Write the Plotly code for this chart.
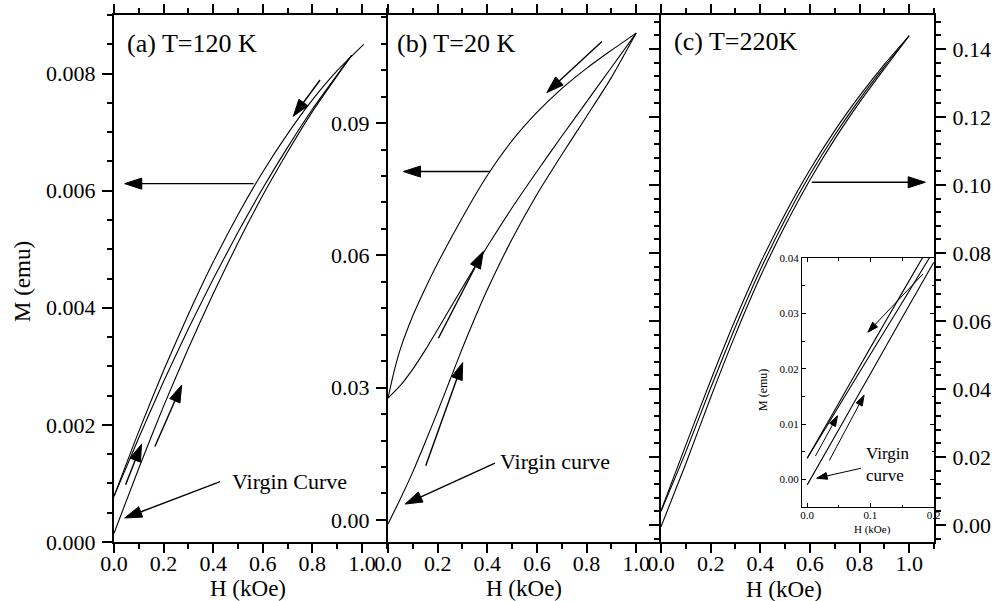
import plotly.graph_objects as go

FONT = "Liberation Serif, Times New Roman, serif"

# ---------------- data ----------------
# Panel (a) T=120 K
a_desc_H = [0, 0.1, 0.2, 0.3, 0.4, 0.5, 0.6, 0.7, 0.8, 0.9, 1.007]
a_desc_M = [0.00078, 0.00189, 0.00293, 0.00389, 0.00478, 0.00559, 0.00632, 0.00697, 0.00755, 0.00805, 0.0085]
a_asc_H = [0, 0.1, 0.2, 0.3, 0.4, 0.5, 0.6, 0.7, 0.8, 0.958]
a_asc_M = [0.00078, 0.00178, 0.00274, 0.00364, 0.00449, 0.00529, 0.00604, 0.00674, 0.00739, 0.00831]
a_vir_H = [0, 0.1, 0.2, 0.3, 0.4, 0.5, 0.6, 0.7, 0.8, 0.958]
a_vir_M = [0.00015, 0.00126, 0.00232, 0.00331, 0.00424, 0.00511, 0.00592, 0.00666, 0.00735, 0.00831]

# Panel (b) T=20 K
b_desc_H = [0, 0.025, 0.05, 0.1, 0.15, 0.2, 0.3, 0.4, 0.5, 0.6, 0.7, 0.8, 0.9, 1.0]
b_desc_M = [0.0276, 0.0338, 0.0388, 0.0463, 0.0525, 0.0582, 0.0686, 0.0781, 0.086, 0.0924, 0.0978, 0.1024, 0.1065, 0.1104]
b_asc_H = [0, 0.05, 0.1, 0.15, 0.2, 0.3, 0.4, 0.5, 0.6, 0.7, 0.8, 0.9, 1.0]
b_asc_M = [0.0276, 0.0305, 0.0342, 0.0385, 0.0432, 0.0527, 0.062, 0.0708, 0.079, 0.087, 0.0948, 0.1026, 0.1104]
b_vir_H = [0, 0.05, 0.1, 0.15, 0.2, 0.25, 0.3, 0.35, 0.4, 0.5, 0.6, 0.7, 0.8, 0.9, 1.0]
b_vir_M = [-0.0009, 0.0048, 0.0109, 0.0176, 0.0246, 0.0318, 0.039, 0.0458, 0.0522, 0.0637, 0.0738, 0.0828, 0.0915, 0.1003, 0.1104]

# Panel (c) T=220K
c_H = [0, 0.1, 0.2, 0.3, 0.4, 0.5, 0.6, 0.7, 0.8, 0.9, 1.0]
c_desc_M = [0.0042, 0.0235, 0.0425, 0.0605, 0.077, 0.0915, 0.1045, 0.116, 0.1262, 0.1355, 0.1439]
c_asc_M = [0.0040, 0.0215, 0.0403, 0.0583, 0.075, 0.0898, 0.103, 0.1147, 0.1252, 0.1348, 0.1439]
c_vir_M = [-0.0005, 0.018, 0.0375, 0.056, 0.073, 0.088, 0.1015, 0.1135, 0.1243, 0.1342, 0.1439]

# Inset of (c): low-field loop
ins_H = [0, 0.05, 0.1, 0.15, 0.2]
ins_desc_M = [0.0038, 0.0138, 0.0238, 0.0337, 0.0435]
ins_asc_M = [0.0038, 0.0132, 0.0226, 0.0319, 0.0413]
ins_vir_M = [-0.001, 0.009, 0.0191, 0.0292, 0.0392]

# Arrows: (tail, head) in data units of each panel
a_arrows = [((0.831, 0.00789), (0.723, 0.00727)),
            ((0.563, 0.00612), (0.043, 0.00612)),
            ((0.047, 0.00098), (0.111, 0.00167)),
            ((0.165, 0.00163), (0.273, 0.00268)),
            ((0.428, 0.00103), (0.043, 0.00041))]
b_arrows = [((0.862, 0.1085), (0.640, 0.0969)),
            ((0.411, 0.0790), (0.062, 0.0790)),
            ((0.203, 0.0412), (0.384, 0.0609)),
            ((0.152, 0.0123), (0.301, 0.0357)),
            ((0.431, 0.0129), (0.069, 0.0036))]
c_arrows = [((0.608, 0.1008), (1.065, 0.1008))]
ins_arrows = [((0.183, 0.0371), (0.096, 0.0266)),
              ((0.013, 0.0042), (0.048, 0.0115)),
              ((0.035, 0.0034), (0.090, 0.0152)),
              ((0.085, 0.0020), (0.015, 0.0002))]

W, H = 994, 601
fig = go.Figure()


def curve(x, y, xa, ya, w=1.1):
    fig.add_trace(go.Scatter(x=x, y=y, mode="lines",
                             line=dict(color="black", width=w, shape="spline", smoothing=0.6),
                             xaxis=xa, yaxis=ya, hoverinfo="skip", showlegend=False))


def arrow(tail, head, xa, ya, size=18, w=1.4):
    fig.add_trace(go.Scatter(x=[tail[0], head[0]], y=[tail[1], head[1]], mode="lines+markers",
                             line=dict(color="black", width=w),
                             marker=dict(symbol="arrow", size=[0, size], angleref="previous",
                                         color="black", opacity=1,
                                         line=dict(width=1, color="black")),
                             xaxis=xa, yaxis=ya, hoverinfo="skip", showlegend=False))


curve(a_desc_H, a_desc_M, "x", "y")
curve(a_asc_H, a_asc_M, "x", "y")
curve(a_vir_H, a_vir_M, "x", "y")
for t, h in a_arrows:
    arrow(t, h, "x", "y")

curve(b_desc_H, b_desc_M, "x2", "y2")
curve(b_asc_H, b_asc_M, "x2", "y2")
curve(b_vir_H, b_vir_M, "x2", "y2")
for t, h in b_arrows:
    arrow(t, h, "x2", "y2")

curve(c_H, c_desc_M, "x3", "y3")
curve(c_H, c_asc_M, "x3", "y3")
curve(c_H, c_vir_M, "x3", "y3")
for t, h in c_arrows:
    arrow(t, h, "x3", "y3")

curve(ins_H, ins_desc_M, "x4", "y4")
curve(ins_H, ins_asc_M, "x4", "y4")
curve(ins_H, ins_vir_M, "x4", "y4")
for t, h in ins_arrows:
    arrow(t, h, "x4", "y4", size=11, w=1)


def axis(domain, anchor, rng, dtick, minor, fmt, mirror, size=22, lw=2, tl=9, mtl=5,
         ticks="outside", side=None, standoff=0):
    d = dict(domain=domain, anchor=anchor, range=rng, dtick=dtick, tick0=0, tickformat=fmt,
             showline=True, linecolor="black", linewidth=lw, mirror=mirror, ticks=ticks,
             ticklen=tl, tickwidth=lw, tickcolor="black", automargin=False,
             ticklabelstandoff=standoff,
             minor=dict(dtick=minor, tick0=0, ticks=ticks, ticklen=mtl, tickwidth=lw,
                        tickcolor="black", showgrid=False),
             showgrid=False, zeroline=False, fixedrange=True,
             tickfont=dict(family=FONT, size=size, color="black"))
    if side:
        d["side"] = side
    return d


xa = [114 / W, 388 / W]
xb = [388 / W, 661 / W]
xc = [661 / W, 934 / W]
yd = [1 - 542 / H, 1 - 15 / H]

fig.update_layout(
    width=W, height=H, margin=dict(l=0, r=0, t=0, b=0, autoexpand=False),
    paper_bgcolor="white", plot_bgcolor="white", showlegend=False, hovermode=False,
    xaxis=axis(xa, "y", [0, 1.105], 0.2, 0.1, ".1f", "ticks", standoff=-8),
    yaxis=axis(yd, "x", [0, 0.009], 0.002, 0.0005, ".3f", False, tl=10, standoff=2),
    xaxis2=axis(xb, "y2", [0, 1.1], 0.2, 0.1, ".1f", "ticks", standoff=-8),
    yaxis2=axis(yd, "x2", [-0.005, 0.1145], 0.03, 0.006, ".2f", False, tl=10, standoff=2),
    xaxis3=axis(xc, "y3", [0, 1.1], 0.2, 0.1, ".1f", "ticks", standoff=-8),
    yaxis3=axis(yd, "x3", [-0.005, 0.15], 0.02, 0.004, ".2f", "ticks", tl=10, side="right",
                standoff=2),
    xaxis4=axis([802 / W, 934 / W], "y4", [-0.0082, 0.2005], 0.1, 0.05, ".1f", "ticks",
                size=11, lw=1, tl=4, mtl=2.5, ticks="inside", standoff=-2),
    yaxis4=axis([1 - 507 / H, 1 - 258 / H], "x4", [-0.005, 0.04], 0.01, 0.005, ".2f", "ticks",
                size=11, lw=1, tl=4, mtl=2.5, ticks="inside"),
)


def label(text, x, y, size, xanchor="left", angle=0, xref="paper", yref="paper", align="left"):
    fig.add_annotation(text=text, x=x, y=y, xref=xref, yref=yref, showarrow=False,
                       xanchor=xanchor, yanchor="middle", textangle=angle, align=align,
                       font=dict(family=FONT, size=size, color="black"))


label("(a) T=120 K", 125 / W, 1 - 43 / H, 26)
label("(b) T=20 K", 395 / W, 1 - 43 / H, 26)
label("(c) T=220K", 672 / W, 1 - 42 / H, 26)
label("M (emu)", 22 / W, 1 - 282 / H, 23, xanchor="center", angle=-90)
label("H (kOe)", 248 / W, 1 - 588 / H, 23, xanchor="center")
label("H (kOe)", 524 / W, 1 - 588 / H, 23, xanchor="center")
label("H (kOe)", 784 / W, 1 - 589 / H, 23, xanchor="center")
label("M (emu)", 763 / W, 1 - 390 / H, 12, xanchor="center", angle=-90)
label("H (kOe)", 872 / W, 1 - 529 / H, 11, xanchor="center")

label("Virgin Curve", 0.466, 0.00103, 22, xref="x", yref="y")
label("Virgin curve", 0.444, 0.0132, 22, xref="x2", yref="y2")
label("Virgin<br>curve", 0.090, 0.0026, 17, xref="x4", yref="y4")

fig.write_html("out.html", config={"displayModeBar": False})
